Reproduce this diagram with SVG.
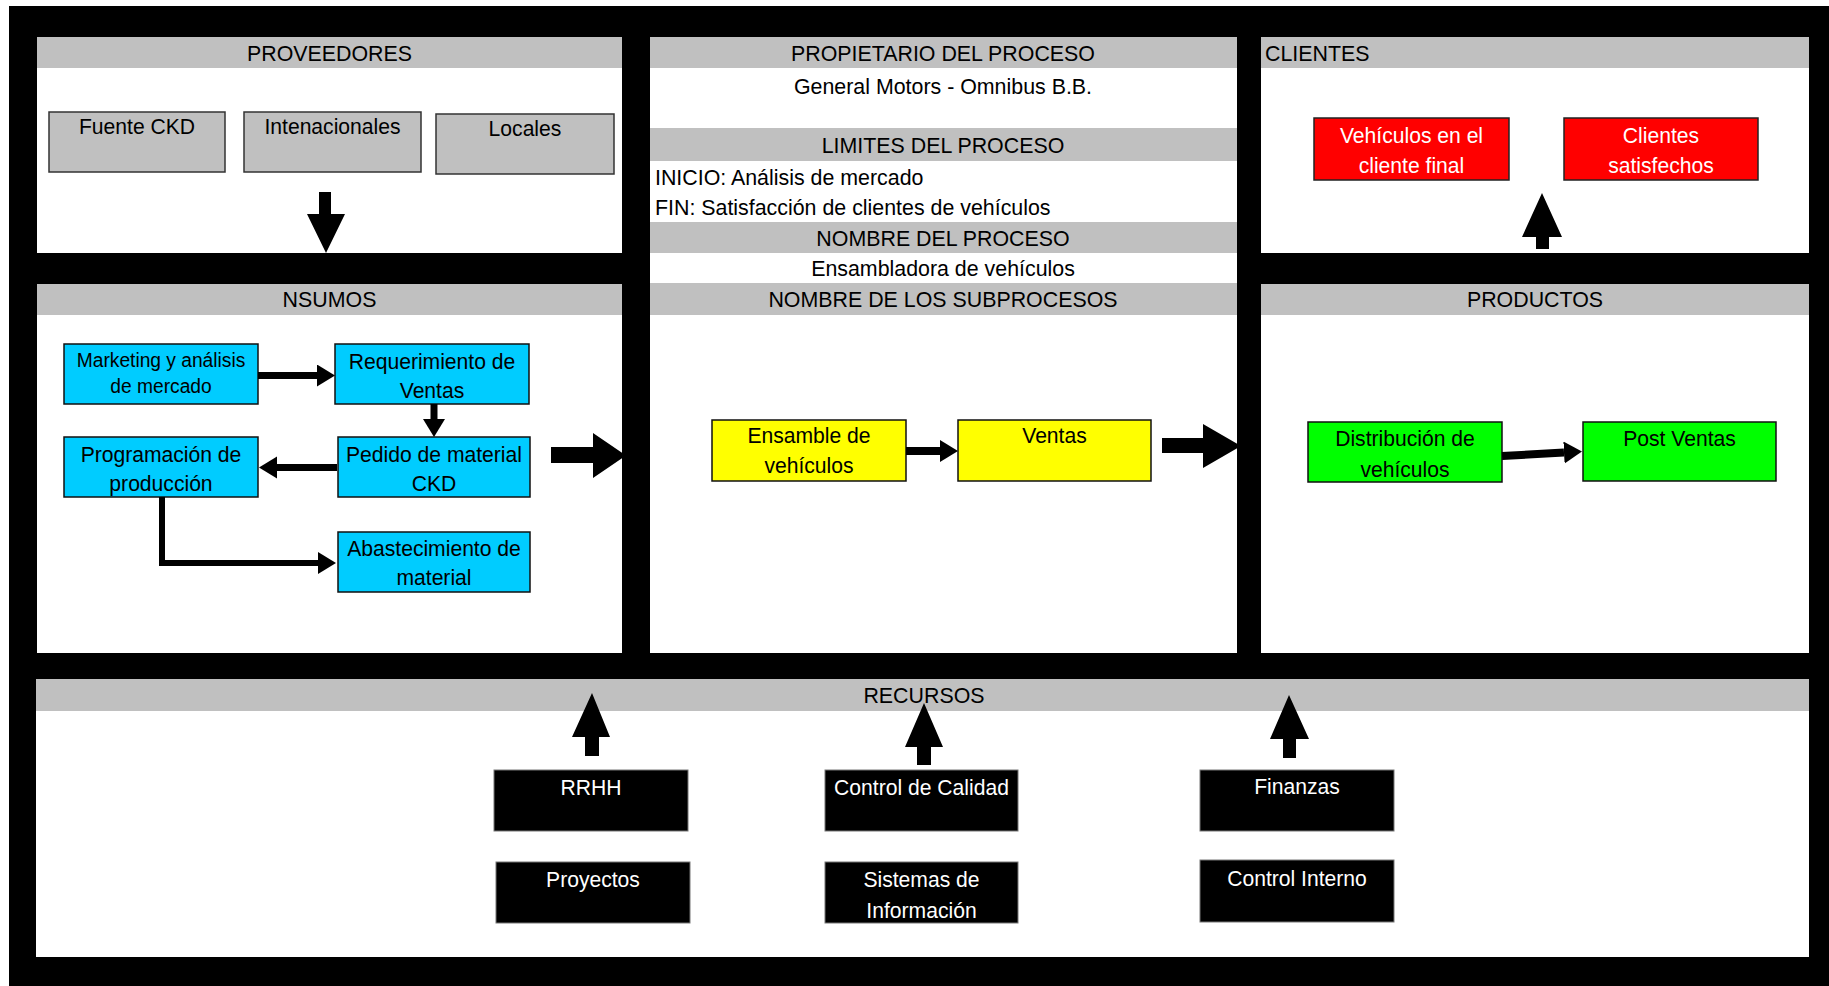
<svg xmlns="http://www.w3.org/2000/svg" width="1829" height="986" viewBox="0 0 1829 986">
  <defs>
    <style>
      text { font-family: "Liberation Sans", Arial, sans-serif; fill: #000; transform-box: fill-box; transform-origin: center; }
      .hd { font-size: 23px; text-anchor: middle; transform: scaleX(0.93); }
      .tx { font-size: 23px; text-anchor: middle; transform: scaleX(0.93); }
      .lf { font-size: 23px; text-anchor: start; transform-origin: left center; transform: scaleX(0.93); }
      .bx { font-size: 22px; text-anchor: middle; transform: scaleX(0.96); }
      .sm { font-size: 20px; text-anchor: middle; transform: scaleX(0.96); }
      .wt { fill: #fff; }
      .panel { fill: #fff; }
      .bar { fill: #c0c0c0; }
      .grey { fill: #c0c0c0; stroke: #333; stroke-width: 1.5; }
      .cyan { fill: #00ccff; stroke: #111; stroke-width: 1.5; }
      .yel { fill: #ffff00; stroke: #111; stroke-width: 1.5; }
      .grn { fill: #00ff00; stroke: #111; stroke-width: 1.5; }
      .red { fill: #ff0000; stroke: #222; stroke-width: 1.5; }
      .blk { fill: #000; stroke: #777; stroke-width: 1; }
      .flow { fill: none; stroke: #000; stroke-width: 7; marker-end: url(#head); }
      .block { fill: #000; }
    </style>
    <marker id="head" markerUnits="userSpaceOnUse" markerWidth="20" markerHeight="24" refX="0" refY="11" orient="auto">
      <path d="M0,0 L18,11 L0,22 Z" fill="#000"/>
    </marker>
  </defs>

  <!-- page frame -->
  <rect x="0" y="0" width="1829" height="986" fill="#fff"/>
  <rect x="9" y="6" width="1820" height="980" fill="#000"/>

  <!-- panels -->
  <g id="proveedores">
    <rect class="panel" x="37" y="37" width="585" height="216"/>
    <rect class="bar" x="37" y="37" width="585" height="31"/>
    <text class="hd" x="329.5" y="61">PROVEEDORES</text>
  </g>
  <g id="proceso">
    <rect class="panel" x="650" y="37" width="587" height="616"/>
    <rect class="bar" x="650" y="37" width="587" height="31"/>
    <text class="hd" x="943" y="61">PROPIETARIO DEL PROCESO</text>
    <text class="tx" x="943" y="94">General Motors - Omnibus B.B.</text>
    <rect class="bar" x="650" y="128" width="587" height="33"/>
    <text class="hd" x="943" y="153">LIMITES DEL PROCESO</text>
    <text class="lf" x="655" y="185">INICIO: Análisis de mercado</text>
    <text class="lf" x="655" y="215">FIN: Satisfacción de clientes de vehículos</text>
    <rect class="bar" x="650" y="222" width="587" height="31"/>
    <text class="hd" x="943" y="246">NOMBRE DEL PROCESO</text>
    <text class="tx" x="943" y="276">Ensambladora de vehículos</text>
    <rect class="bar" x="650" y="283" width="587" height="32"/>
    <text class="hd" x="943" y="307">NOMBRE DE LOS SUBPROCESOS</text>
  </g>
  <g id="clientes">
    <rect class="panel" x="1261" y="37" width="548" height="216"/>
    <rect class="bar" x="1261" y="37" width="548" height="31"/>
    <text class="lf" x="1265" y="61">CLIENTES</text>
  </g>
  <g id="insumos">
    <rect class="panel" x="37" y="284" width="585" height="369"/>
    <rect class="bar" x="37" y="284" width="585" height="31"/>
    <text class="hd" x="329.5" y="307">NSUMOS</text>
  </g>
  <g id="productos">
    <rect class="panel" x="1261" y="284" width="548" height="369"/>
    <rect class="bar" x="1261" y="284" width="548" height="31"/>
    <text class="hd" x="1535" y="307">PRODUCTOS</text>
  </g>
  <g id="recursos">
    <rect class="panel" x="36" y="679" width="1773" height="278"/>
    <rect class="bar" x="36" y="679" width="1773" height="32"/>
    <text class="hd" x="924" y="703">RECURSOS</text>
  </g>

  <!-- supplier nodes -->
  <g id="fuente-ckd">
    <rect class="grey" x="49" y="112" width="176" height="60"/>
    <text class="bx" x="137" y="134">Fuente CKD</text>
  </g>
  <g id="internacionales">
    <rect class="grey" x="244" y="112" width="177" height="60"/>
    <text class="bx" x="332.5" y="134">Intenacionales</text>
  </g>
  <g id="locales">
    <rect class="grey" x="436" y="114" width="178" height="60"/>
    <text class="bx" x="525" y="136">Locales</text>
  </g>

  <!-- input nodes -->
  <g id="marketing">
    <rect class="cyan" x="64" y="344" width="194" height="60"/>
    <text class="sm" x="161" y="367">Marketing y análisis</text>
    <text class="sm" x="161" y="393">de mercado</text>
  </g>
  <g id="requerimiento">
    <rect class="cyan" x="335" y="344" width="194" height="60"/>
    <text class="bx" x="432" y="369">Requerimiento de</text>
    <text class="bx" x="432" y="398">Ventas</text>
  </g>
  <g id="programacion">
    <rect class="cyan" x="64" y="437" width="194" height="60"/>
    <text class="bx" x="161" y="462">Programación de</text>
    <text class="bx" x="161" y="491">producción</text>
  </g>
  <g id="pedido">
    <rect class="cyan" x="338" y="437" width="192" height="60"/>
    <text class="bx" x="434" y="462">Pedido de material</text>
    <text class="bx" x="434" y="491">CKD</text>
  </g>
  <g id="abastecimiento">
    <rect class="cyan" x="338" y="532" width="192" height="60"/>
    <text class="bx" x="434" y="556">Abastecimiento de</text>
    <text class="bx" x="434" y="585">material</text>
  </g>

  <!-- subprocess nodes -->
  <g id="ensamble">
    <rect class="yel" x="712" y="420" width="194" height="61"/>
    <text class="bx" x="809" y="443">Ensamble de</text>
    <text class="bx" x="809" y="473">vehículos</text>
  </g>
  <g id="ventas">
    <rect class="yel" x="958" y="420" width="193" height="61"/>
    <text class="bx" x="1054.5" y="443">Ventas</text>
  </g>

  <!-- product nodes -->
  <g id="distribucion">
    <rect class="grn" x="1308" y="422" width="194" height="60"/>
    <text class="bx" x="1405" y="446">Distribución de</text>
    <text class="bx" x="1405" y="477">vehículos</text>
  </g>
  <g id="post-ventas">
    <rect class="grn" x="1583" y="422" width="193" height="59"/>
    <text class="bx" x="1679.5" y="446">Post Ventas</text>
  </g>

  <!-- customer nodes -->
  <g id="vehiculos-cliente">
    <rect class="red" x="1314" y="118" width="195" height="62"/>
    <text class="bx wt" x="1411.5" y="143">Vehículos en el</text>
    <text class="bx wt" x="1411.5" y="173">cliente final</text>
  </g>
  <g id="clientes-satisfechos">
    <rect class="red" x="1564" y="118" width="194" height="62"/>
    <text class="bx wt" x="1661" y="143">Clientes</text>
    <text class="bx wt" x="1661" y="173">satisfechos</text>
  </g>

  <!-- resource nodes -->
  <g id="rrhh">
    <rect class="blk" x="494" y="770" width="194" height="61"/>
    <text class="bx wt" x="591" y="795">RRHH</text>
  </g>
  <g id="proyectos">
    <rect class="blk" x="496" y="862" width="194" height="61"/>
    <text class="bx wt" x="593" y="887">Proyectos</text>
  </g>
  <g id="control-calidad">
    <rect class="blk" x="825" y="770" width="193" height="61"/>
    <text class="bx wt" x="921.5" y="795">Control de Calidad</text>
  </g>
  <g id="sistemas">
    <rect class="blk" x="825" y="862" width="193" height="61"/>
    <text class="bx wt" x="921.5" y="887">Sistemas de</text>
    <text class="bx wt" x="921.5" y="918">Información</text>
  </g>
  <g id="finanzas">
    <rect class="blk" x="1200" y="770" width="194" height="61"/>
    <text class="bx wt" x="1297" y="794">Finanzas</text>
  </g>
  <g id="control-interno">
    <rect class="blk" x="1200" y="860" width="194" height="62"/>
    <text class="bx wt" x="1297" y="886">Control Interno</text>
  </g>

  <!-- connectors -->
  <g id="connectors">
    <path class="flow" d="M258,375.5 H317"/>
    <path class="flow" d="M434,404 V419" style="stroke-width:7"/>
    <path class="flow" d="M337,467.5 H277"/>
    <path class="flow" d="M162,497 V563 H318" style="stroke-width:6"/>
    <path class="flow" d="M906,451 H940" style="stroke-width:8"/>
    <path class="flow" d="M1502,456 L1564,452.5" style="stroke-width:8"/>

    <!-- block arrows between areas -->
    <polygon class="block" points="319,192 331,192 331,214 345,214 326,253 307,214 319,214"/>
    <polygon class="block" points="551,447 593,447 593,433 626,455.5 593,478 593,463 551,463"/>
    <polygon class="block" points="1162,438 1203,438 1203,424 1241,446 1203,468 1203,453 1162,453"/>
    <polygon class="block" points="1536,249 1536,237 1522,237 1542,193 1562,237 1549,237 1549,249"/>
    <polygon class="block" points="585,756 585,737 572,737 592,693 610,737 599,737 599,756"/>
    <polygon class="block" points="917,765 917,747 905,747 924,703 943,747 931,747 931,765"/>
    <polygon class="block" points="1283,758 1283,739 1270,739 1289,695 1309,739 1296,739 1296,758"/>
  </g>
</svg>
